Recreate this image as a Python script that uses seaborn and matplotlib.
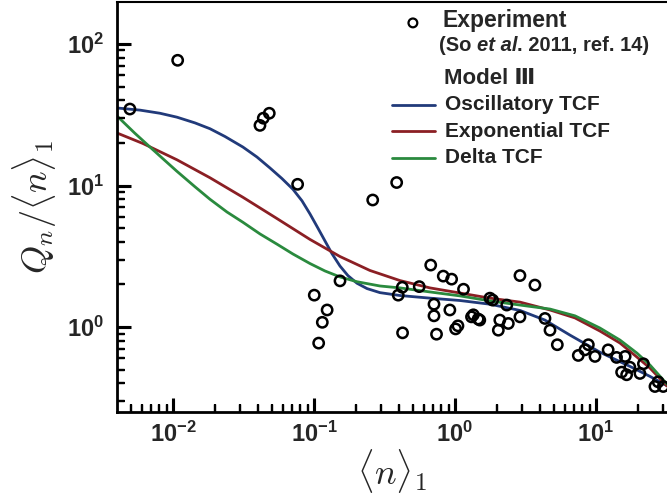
#!/usr/bin/env python3
"""
Q_n / <n>_1 versus <n>_1 : experiment vs Model III with three TCFs
"""
import pandas as pd
import matplotlib
matplotlib.use("Agg")
import matplotlib.pyplot as plt
from matplotlib.ticker import FuncFormatter, LogLocator, NullFormatter
from matplotlib.lines import Line2D
import seaborn as sns
import numpy as np

# Experimental points (So et al. 2011)
exp_n = [0.00495, 0.0108, 0.0414, 0.0437, 0.0482, 0.0766, 0.261, 0.386,
         0.153, 0.1005, 0.124, 0.1146, 0.108, 0.423, 0.396, 0.425, 0.558,
         0.673, 0.826, 0.947, 0.71, 0.71, 0.92, 0.74, 1.05, 1.01, 1.15,
         1.31, 1.46, 1.77, 2.89, 3.69, 1.85, 1.50, 1.35, 2.08, 2.39, 2.03,
         2.33, 2.89, 4.35, 4.72, 5.32, 7.49, 8.36, 8.83, 9.84, 12.2, 14.0,
         16.1, 15.2, 16.5, 17.4, 20.5, 21.7, 26.2, 30.0, 27.6]
exp_q = [34.7, 76.7, 26.6, 29.9, 32.4, 10.2, 7.9, 10.5,
         2.12, 1.68, 1.32, 1.08, 0.77, 1.91, 1.68, 0.91, 1.93,
         2.74, 2.29, 2.18, 1.45, 1.20, 1.32, 0.89, 1.02, 0.97, 1.85,
         1.18, 1.14, 1.60, 2.31, 1.98, 1.55, 1.12, 1.22, 1.12, 1.06, 0.95,
         1.43, 1.18, 1.15, 0.95, 0.75, 0.63, 0.69, 0.75, 0.62, 0.69, 0.61,
         0.62, 0.48, 0.46, 0.52, 0.47, 0.55, 0.38, 0.38, 0.41]

# Model III, oscillatory TCF
osc_n = [0.00401, 0.00583, 0.00809, 0.01067, 0.01432, 0.01829, 0.02338,
         0.03133, 0.03942, 0.04877, 0.05929, 0.07099, 0.08222, 0.09371,
         0.1067, 0.1197, 0.1342, 0.1529, 0.1741, 0.2018, 0.2377, 0.2939,
         0.4074, 0.6653, 1.084, 1.770, 2.891, 4.346, 6.541, 10.67, 17.42,
         24.15, 31.9]
osc_q = [35.3, 34.1, 32.4, 30.4, 27.7, 25.2, 22.2,
         18.7, 15.9, 13.3, 11.2, 9.4, 7.8, 6.3,
         5.0, 4.06, 3.30, 2.70, 2.31, 2.04, 1.87, 1.75,
         1.67, 1.60, 1.54, 1.45, 1.31, 1.12, 0.877, 0.664, 0.527,
         0.448, 0.385]

# Model III, exponential TCF
exp_tcf_n = [0.00401, 0.00613, 0.01067, 0.01829, 0.03133, 0.0538, 0.09371,
             0.1529, 0.2495, 0.4074, 0.6653, 1.084, 1.770, 2.891, 4.72,
             7.10, 10.67, 14.8, 19.5, 24.15, 31.9]
exp_tcf_q = [23.5, 19.8, 15.2, 11.35, 8.26, 5.90, 4.16,
             3.15, 2.51, 2.13, 1.89, 1.74, 1.60, 1.50, 1.32,
             1.16, 0.937, 0.771, 0.614, 0.513, 0.383]

# Model III, delta TCF
delta_n = [0.00401, 0.00537, 0.00687, 0.00878, 0.01067, 0.01432, 0.01829,
           0.02415, 0.03133, 0.0414, 0.0547, 0.07099, 0.09371, 0.1197,
           0.1529, 0.2018, 0.2939, 0.4074, 0.6653, 1.084, 1.770, 2.891,
           4.72, 7.10, 10.67, 14.8, 19.5, 24.15, 31.9]
delta_q = [31.0, 23.4, 18.7, 15.0, 12.6, 9.8, 8.0,
           6.5, 5.5, 4.55, 3.85, 3.28, 2.81, 2.49,
           2.26, 2.09, 1.95, 1.89, 1.77, 1.66, 1.53, 1.43,
           1.34, 1.20, 0.984, 0.809, 0.655, 0.539, 0.395]

series = ["Oscillatory TCF", "Exponential TCF", "Delta TCF"]
colors = ["#213a7a", "#8b1f24", "#2a8a3e"]

df_exp = pd.DataFrame({"n": exp_n, "q": exp_q})
df_model = pd.concat([
    pd.DataFrame({"n": osc_n, "q": osc_q, "model": series[0]}),
    pd.DataFrame({"n": exp_tcf_n, "q": exp_tcf_q, "model": series[1]}),
    pd.DataFrame({"n": delta_n, "q": delta_q, "model": series[2]}),
], ignore_index=True)

sns.set_style("white")
plt.rcParams['font.family'] = ['Liberation Sans', 'DejaVu Sans']
plt.rcParams['mathtext.fontset'] = 'custom'
plt.rcParams['mathtext.rm'] = 'Liberation Sans'
plt.rcParams['mathtext.bf'] = 'Liberation Sans:bold'

fig = plt.figure(figsize=(6.67, 4.99), dpi=100)
ax = fig.add_axes([117 / 667, 87 / 499, 550 / 667, 410 / 499])

sns.lineplot(data=df_model, x="n", y="q", hue="model", palette=colors,
             hue_order=series, estimator=None, sort=True, lw=2.0,
             legend=False, ax=ax)
sns.scatterplot(data=df_exp, x="n", y="q", s=55, facecolor="none",
                edgecolor="black", linewidth=1.8, ax=ax, zorder=3)

ax.set_xscale("log")
ax.set_yscale("log")
xlim = (0.00401, 31.9)
ylim = (0.251, 198)
ax.set_xlim(*xlim)
ax.set_ylim(*ylim)

fmt = FuncFormatter(lambda v, p: r'$\mathbf{10^{%d}}$' % round(np.log10(v)))
for axis in [ax.xaxis, ax.yaxis]:
    axis.set_major_locator(LogLocator(base=10, numticks=100))
    axis.set_minor_locator(LogLocator(base=10, subs=np.arange(2, 10),
                                      numticks=100))
    axis.set_major_formatter(fmt)
    axis.set_minor_formatter(NullFormatter())

for side in ["left", "bottom", "top"]:
    ax.spines[side].set_color("black")
for side in ["left", "bottom"]:
    ax.spines[side].set_linewidth(2)
ax.spines["top"].set_linewidth(1.5)
ax.spines["right"].set_visible(False)

ax.set_xlabel(r'$\langle n\rangle_1$', fontsize=26, math_fontfamily='cm',
              labelpad=0)
ax.set_ylabel(r'$Q_n/\langle n\rangle_1$', fontsize=26, math_fontfamily='cm',
              labelpad=6)

# legend block
ax.scatter([0.538], [0.949], s=40, facecolor="none", edgecolor="black",
           linewidth=1.6, transform=ax.transAxes, clip_on=False)
ax.text(0.591, 0.954, "Experiment", transform=ax.transAxes, fontsize=16.5,
        fontweight="bold", va="center", ha="left")
t1 = ax.text(0.585, 0.893, "(So ", transform=ax.transAxes, fontsize=14.5,
             fontweight="bold", va="center", ha="left")
t2 = ax.annotate("et al", xycoords=t1, xy=(1, 0), va="bottom", fontsize=14.5,
                 fontweight="bold", style="italic")
ax.annotate(". 2011, ref. 14)", xycoords=t2, xy=(1, 0), va="bottom",
            fontsize=14.5, fontweight="bold")
ax.text(0.595, 0.813, "Model \u2162", transform=ax.transAxes, fontsize=16,
        fontweight="bold", va="center", ha="left")

for lab, col, fy in zip(series, colors, [0.749, 0.685, 0.620]):
    ax.add_line(Line2D([0.50, 0.578], [fy, fy], color=col, lw=2,
                       transform=ax.transAxes))
    ax.text(0.596, fy, lab, transform=ax.transAxes, fontsize=15,
            fontweight="bold", va="center", ha="left", color="#222222")

# ticks: inward, left and bottom only
ax.tick_params(which="both", direction="in", color="black", left=True,
               bottom=True, top=False, right=False)
ax.tick_params(which="major", length=10, width=2.2, labelsize=17)
ax.tick_params(which="minor", length=6, width=1.6)
ax.tick_params(axis="y", which="major", pad=9)
ax.tick_params(axis="x", which="major", pad=7)

# tick marks also drawn as short segments at the locator positions,
# so they show up whatever the style does with the axis tick lines
def in_range(locs, lo, hi):
    return [v for v in locs if lo <= v <= hi]

xt = ax.get_xaxis_transform()
yt = ax.get_yaxis_transform()
ax.vlines(in_range(ax.xaxis.get_majorticklocs(), *xlim), 0, 12 / 410,
          transform=xt, colors="black", lw=2.2, clip_on=False, zorder=5)
ax.vlines(in_range(ax.xaxis.get_minorticklocs(), *xlim), 0, 7 / 410,
          transform=xt, colors="black", lw=1.6, clip_on=False, zorder=5)
ax.hlines(in_range(ax.yaxis.get_majorticklocs(), *ylim), 0, 12 / 550,
          transform=yt, colors="black", lw=2.2, clip_on=False, zorder=5)
ax.hlines(in_range(ax.yaxis.get_minorticklocs(), *ylim), 0, 7 / 550,
          transform=yt, colors="black", lw=1.6, clip_on=False, zorder=5)
ax.set_xlim(*xlim)
ax.set_ylim(*ylim)

fig.savefig("out.png", dpi=100)
plt.close(fig)
